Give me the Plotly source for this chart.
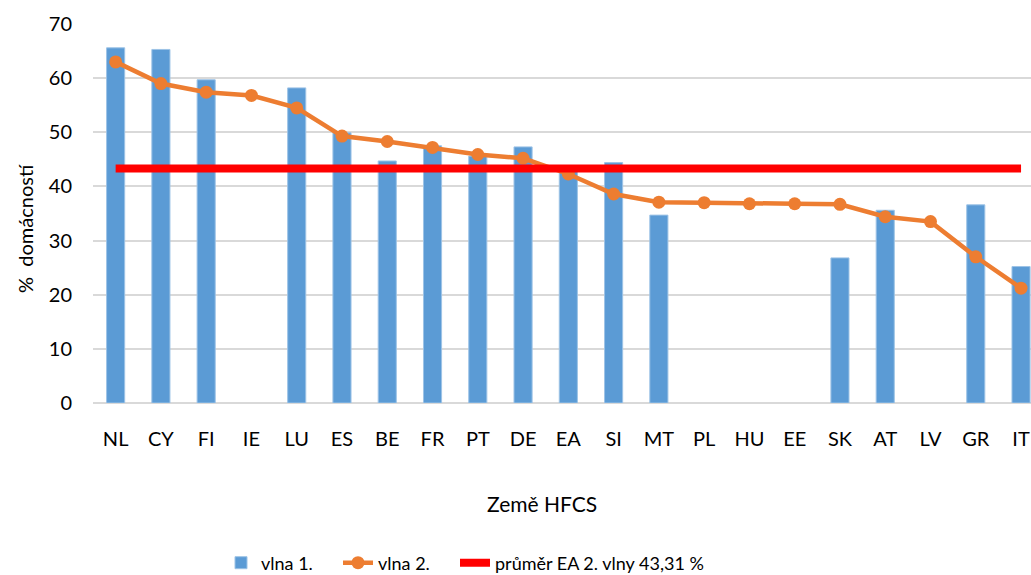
import plotly.graph_objects as go

countries = ["NL", "CY", "FI", "IE", "LU", "ES", "BE", "FR", "PT", "DE", "EA",
             "SI", "MT", "PL", "HU", "EE", "SK", "AT", "LV", "GR", "IT"]
wave1 = [65.6, 65.3, 59.7, None, 58.2, 49.9, 44.7, 47.5, 45.6, 47.3, 43.0,
         44.4, 34.7, None, None, None, 26.8, 35.6, None, 36.6, 25.2]
wave2 = [63.0, 59.0, 57.4, 56.8, 54.5, 49.3, 48.3, 47.2, 45.9, 45.2, 42.3,
         38.6, 37.1, 37.0, 36.8, 36.8, 36.7, 34.4, 33.5, 27.0, 21.2]
ea_mean = [43.31] * len(countries)

BLUE = "#5B9BD5"
ORANGE = "#ED7D31"
RED = "#FF0000"
FONT = "Lato"
W, H = 1031, 575
L, T, B = 93, 24, 172

fig = go.Figure()
fig.add_trace(go.Bar(
    x=countries, y=wave1, name="vlna 1.", legend="legend",
    marker=dict(color=BLUE, line=dict(color="#9DC3E6", width=1)),
    width=0.40,
))
fig.add_trace(go.Scatter(
    x=countries, y=wave2, name="vlna 2.", mode="lines+markers", legend="legend2",
    line=dict(color=ORANGE, width=4.5),
    marker=dict(color=ORANGE, size=13),
))
fig.add_trace(go.Scatter(
    x=countries, y=ea_mean, name="průměr EA 2. vlny 43,31 %", mode="lines",
    legend="legend3",
    line=dict(color=RED, width=8),
))

def leg(text_x):
    return dict(orientation="h", xref="container", yref="container",
                x=(text_x - 40) / W, xanchor="left", y=(H - 563) / H,
                yanchor="middle", font=dict(size=18), bgcolor="rgba(0,0,0,0)")

plot_w = W - L
plot_h = H - T - B

fig.update_layout(
    width=W, height=H,
    margin=dict(l=L, r=0, t=T, b=B),
    paper_bgcolor="white", plot_bgcolor="white",
    font=dict(family=FONT, size=20, color="#000000"),
    showlegend=True,
    legend=leg(261), legend2=leg(378), legend3=leg(495),
    bargap=0.5,
    annotations=[
        dict(text="%  domácností", textangle=-90, showarrow=False,
             xref="paper", yref="paper",
             x=(25 - L) / plot_w, y=(H - B - 229) / plot_h,
             xanchor="center", yanchor="middle", font=dict(size=20)),
        dict(text="Země HFCS", showarrow=False,
             xref="paper", yref="paper",
             x=(542 - L) / plot_w, y=(H - B - 503) / plot_h,
             xanchor="center", yanchor="middle", font=dict(size=21)),
    ],
)
fig.update_xaxes(
    range=[-0.5, 20.22], showgrid=False, showline=False, zeroline=False,
    ticks="", ticklabelstandoff=22,
)
fig.update_yaxes(
    range=[0, 70], dtick=10, showgrid=True, gridcolor="#D9D9D9", gridwidth=1.5,
    zeroline=True, zerolinecolor="#D9D9D9", zerolinewidth=1.5,
    showline=False, ticks="", ticklabelstandoff=20,
)

fig.write_html(
    "out.html",
    config={"displayModeBar": False},
    post_script="document.body.style.margin='0';document.body.style.overflow='hidden';",
)
